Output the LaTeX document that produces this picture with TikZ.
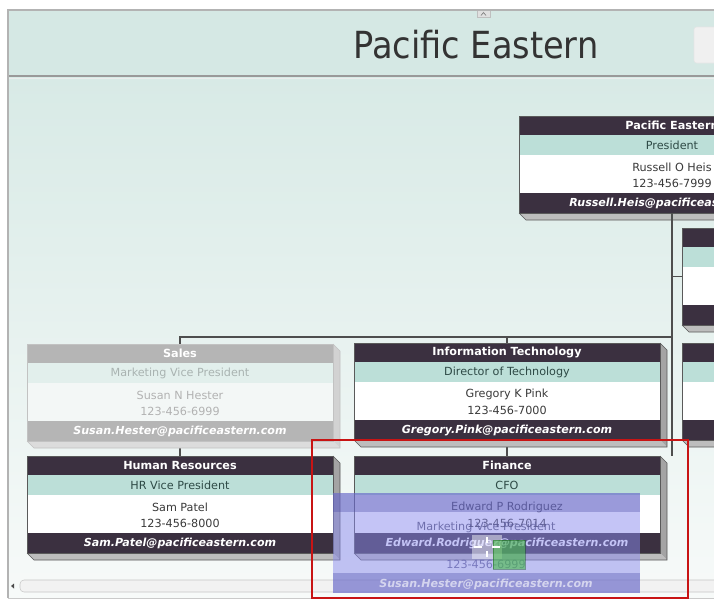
\documentclass[tikz,border=0pt]{standalone}
\usepackage{fontspec}
\setmainfont{DejaVu Sans}[BoldFont={DejaVu Sans Bold},ItalicFont={DejaVu Sans Oblique},BoldItalicFont={DejaVu Sans Bold Oblique}]
\newfontfamily\titlefont{DejaVu Sans Condensed}

% N = normal card, F = card being dragged
\definecolor{barN}{HTML}{3B3040}
\definecolor{barF}{HTML}{B5B5B5}
\definecolor{roleN}{HTML}{BCDFD8}
\definecolor{roleF}{HTML}{E2EFEC}
\definecolor{bodyN}{HTML}{FFFFFF}
\definecolor{bodyF}{HTML}{F3F7F6}
\definecolor{roletxtN}{HTML}{2E4A46}
\definecolor{roletxtF}{HTML}{A9B3B1}
\definecolor{bodytxtN}{HTML}{3A3A3A}
\definecolor{bodytxtF}{HTML}{B2B2B2}
\definecolor{sideN}{HTML}{A4A4A4}
\definecolor{sideF}{HTML}{D2D2D2}
\definecolor{baseN}{HTML}{BDBDBD}
\definecolor{baseF}{HTML}{DCDCDC}
\definecolor{edgeN}{HTML}{5A5A5A}
\definecolor{edgeF}{HTML}{C2C2C2}
\definecolor{linkgray}{HTML}{4E4E4E}
\definecolor{headband}{HTML}{D5E8E4}
\definecolor{bgtop}{HTML}{D8EAE6}
\definecolor{bgbottom}{HTML}{F7FAF9}
\definecolor{framegray}{HTML}{B3B3B3}
\definecolor{ghostfill}{HTML}{8A8AEE}
\definecolor{ghostbar}{HTML}{4C4CA8}
\definecolor{marker}{HTML}{C81414}

\tikzset{
  boxnode/.style={inner sep=0pt, minimum width=229.5pt, minimum height=72.75pt},
  link/.style={draw=linkgray, line width=0.8pt},
  headtxt/.style={text=white, font=\fontsize{8.4}{10}\selectfont\bfseries, inner sep=0pt},
  roletxt/.style={font=\fontsize{8.4}{10}\selectfont, inner sep=0pt},
  bodytxt/.style={font=\fontsize{8.4}{10}\selectfont, inner sep=0pt},
  mailtxt/.style={text=white, font=\fontsize{8.3}{10}\selectfont\bfseries\itshape, inner sep=0pt},
}

% #1 scheme, #2 name, #3 centre x, #4 top y, #5 unit, #6 role, #7 person, #8 phone, #9 mail
\newcommand\orgbox[9]{%
  \fill[side#1] ({#3+153},{#4}) -- ({#3+160},{#4+7}) -- ({#3+160},{#4+104}) -- ({#3+153},{#4+97}) -- cycle;
  \fill[base#1] ({#3-153},{#4+97}) -- ({#3+153},{#4+97}) -- ({#3+160},{#4+104}) -- ({#3-146},{#4+104}) -- cycle;
  \draw[edge#1, line width=0.4pt] ({#3-153},{#4+97}) -- ({#3-146},{#4+104}) -- ({#3+160},{#4+104}) -- ({#3+160},{#4+7}) -- ({#3+153},{#4});
  \fill[bar#1] ({#3-153},{#4}) rectangle ({#3+153},{#4+19});
  \fill[role#1] ({#3-153},{#4+19}) rectangle ({#3+153},{#4+39});
  \fill[body#1] ({#3-153},{#4+39}) rectangle ({#3+153},{#4+77});
  \fill[bar#1] ({#3-153},{#4+77}) rectangle ({#3+153},{#4+97});
  \node[boxnode, draw=edge#1, line width=0.4pt] (#2) at (#3,{#4+48.5}) {};
  \node[headtxt] (#2-head) at (#3,{#4+9.5}) {#5};
  \node[roletxt, text=roletxt#1] (#2-role) at (#3,{#4+29}) {#6};
  \node[bodytxt, text=bodytxt#1] (#2-name) at (#3,{#4+51}) {#7};
  \node[bodytxt, text=bodytxt#1] (#2-phone) at (#3,{#4+67}) {#8};
  \node[mailtxt] (#2-mail) at (#3,{#4+87}) {#9};
}

\begin{document}
\begin{tikzpicture}[x=0.75pt,y=-0.75pt]
\useasboundingbox (0,0) rectangle (714,601);
\fill[white] (0,0) rectangle (714,601);
\begin{scope}
\clip (8,10) rectangle (714,598);
\shade[top color=bgtop, bottom color=bgbottom] (8,77) rectangle (714,598);
\fill[headband] (8,10) rectangle (714,76);
\draw[draw=gray!80, line width=1.5pt] (8,76) -- (714,76);
\draw[draw=white!85!gray, line width=0.6pt] (8,78.5) -- (714,78.5);
\node[text=black!80, font=\titlefont\fontsize{28}{30}\selectfont, inner sep=0pt] (title) at (476,45) {Pacific Eastern};
\fill[black!12] (477,10) rectangle (490,17);
\draw[black!25, line width=0.4pt] (477,10) rectangle (490,17);
\draw[black!50, line width=0.5pt] (481,15.5) -- (483.5,12.5) -- (486,15.5);
\fill[black!6, rounded corners=2pt] (694,27) rectangle (722,63);
\draw[black!10, rounded corners=2pt] (694,27) rectangle (722,63);

\coordinate (hub) at (672,337);
\orgbox{N}{pres}{672}{116}{Pacific Eastern}{President}{Russell O Heis}{123-456-7999}{Russell.Heis@pacificeastern.com}
\orgbox{N}{east1}{835}{228}{}{}{}{}{}
\orgbox{N}{east2}{835}{343}{}{}{}{}{}

\draw[link] (pres.south) -- (pres.south |- hub) -- (672,456);
\draw[link] (pres.south |- east1.west) -- (east1.west);
\draw[link] (hub) -| (180,344);
\draw[link] (507,337) -- (507,343);
\draw[link] (180,445) -- (180,456);
\draw[link] (507,445) -- (507,456);

\orgbox{F}{sales}{180}{344}{Sales}{Marketing Vice President}{Susan N Hester}{123-456-6999}{Susan.Hester@pacificeastern.com}
\orgbox{N}{it}{507}{343}{Information Technology}{Director of Technology}{Gregory K Pink}{123-456-7000}{Gregory.Pink@pacificeastern.com}
\orgbox{N}{hr}{180}{456}{Human Resources}{HR Vice President}{Sam Patel}{123-456-8000}{Sam.Patel@pacificeastern.com}
\orgbox{N}{fin}{507}{456}{Finance}{CFO}{Edward P Rodriguez}{123-456-7014}{Edward.Rodriguez@pacificeastern.com}

% scroll bar
\draw[fill=black!5, draw=black!22, rounded corners=3pt] (20,580) rectangle (722,592);
\fill[black!70] (11,586) -- (14,583.5) -- (14,588.5) -- cycle;

% dragged card
\fill[ghostfill, fill opacity=0.5] (333,493) rectangle (640,593);
\fill[ghostbar, fill opacity=0.35] (333,493) rectangle (640,512);
\fill[ghostbar, fill opacity=0.35] (333,573) rectangle (640,593);
\node[roletxt, text=black!35!ghostfill, text opacity=0.8] (drag-role) at (486,527) {Marketing Vice President};
\node[bodytxt, text=black!25!ghostfill, text opacity=0.8] (drag-phone) at (486,564) {123-456-6999};
\node[mailtxt, text opacity=0.6] (drag-mail) at (486,584) {Susan.Hester@pacificeastern.com};

% move cursor
\fill[white, fill opacity=0.45] (472,535) rectangle (502,559);
\fill[green!45!gray, fill opacity=0.6] (493,540) rectangle (525,569);
\draw[green!30!black, draw opacity=0.4] (493,540) rectangle (525,569);
\draw[white, line width=1.6pt] (474,547) -- (482,547) (492,547) -- (500,547) (487,537) -- (487,543) (487,551) -- (487,557);
\end{scope}
\draw[framegray, line width=0.8pt] (8,598) -- (8,10) -- (714,10);
\draw[framegray!70, line width=0.6pt] (8,598) -- (714,598);
\draw[marker, line width=1.5pt] (312,440) rectangle (688,598);
\end{tikzpicture}
\end{document}
